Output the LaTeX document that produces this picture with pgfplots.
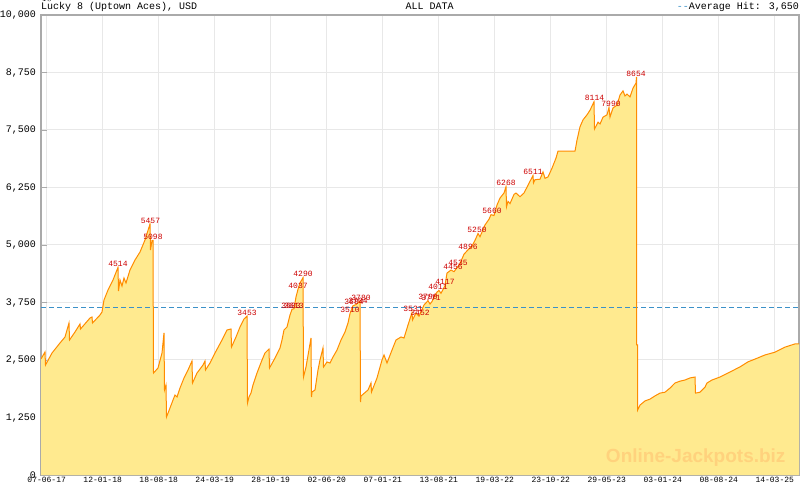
\documentclass[border=0pt]{standalone}
\usepackage{pgfplots}
\pgfplotsset{compat=1.18}
\usepackage{pgfplotstable}
\usepackage{fontspec}
\setmainfont{Liberation Mono}
\newfontfamily\mono{Liberation Mono}
\newfontfamily\wsans{Liberation Sans}
\definecolor{fillc}{RGB}{255,234,143}
\definecolor{linec}{RGB}{255,140,0}
\definecolor{labc}{RGB}{204,0,0}
\definecolor{gridc}{RGB}{232,232,232}
\definecolor{axc}{RGB}{170,170,170}
\definecolor{avgc}{RGB}{60,145,200}
\definecolor{wmc}{RGB}{255,210,125}

\pgfplotstableread{
x y
41 2522
45 2674
45.5 2391
52 2652
60 2870
65 3000
69 3304
69.5 2935
75 3109
80 3283
80.5 3174
90 3413
92 3435
92.5 3304
100 3478
102 3543
104 3804
108 4022
113 4239
118 4514
118.5 4000
120 4239
122 4109
124 4283
126 4174
130 4457
135 4674
140 4848
145 5109
150 5457
150.5 4891
152 5098
153 5098
153.5 2217
158 2326
162 2652
164 3087
164.5 1848
166 1957
166.5 1261
170 1457
173 1630
175 1739
177 1696
180 1891
184 2109
188 2283
192 2478
192.5 2000
197 2217
203 2391
205 2478
205.5 2283
210 2435
215 2652
222 2935
227 3152
231 3174
231.5 2783
236 3000
240 3217
244 3391
247 3453
247.5 1565
249 1696
251 1783
253 1957
257 2217
262 2500
265 2652
269 2739
269.5 2326
275 2543
280 2761
282 2935
284 3152
287 3217
290 3478
292 3603
294 3613
296 3870
298 4037
300 4174
303 4290
303.5 2130
306 2348
311 2978
311.5 1696
312 1804
315 1848
318 2283
320 2500
323 2761
323.5 2348
327 2457
330 2435
333 2565
337 2717
341 2935
345 3109
348 3304
350 3510
353 3680
356 3704
358 3744
360 3780
360.5 1587
361 1717
368 1848
371 2000
371.5 1804
377 2109
382 2500
384 2609
387 2435
392 2717
396 2935
401 3000
404 2978
408 3261
412 3531
412.5 3370
416 3522
419 3452
424 3696
428 3790
430 3717
432 3771
434 3870
437 3978
439 4011
441 3950
445 4117
447 4391
451 4456
454 4420
458 4535
460 4600
464 4800
468 4896
472 4980
475 5100
478 5250
480 5180
485 5435
489 5560
491 5660
494 5640
497 5870
500 6020
504 6130
506 6268
506.5 5830
508 5950
510 5900
514 6100
516 6130
520 6050
524 6130
528 6300
533 6511
533.5 6350
535 6420
540 6430
543 6590
545 6450
548 6480
552 6670
556 6890
558 7040
575 7040
577 7280
580 7570
583 7720
587 7830
590 7930
594 8114
594.5 7520
598 7670
600 7630
603 7780
607 7830
609 7990
610 7780
613 7980
617 8040
620 8260
623 8350
625 8240
627 8280
630 8220
633 8410
636 8520
636.5 8654
636.6 2830
637.5 2830
637.6 1410
640 1520
645 1610
650 1650
655 1720
660 1780
665 1800
670 1890
675 2000
680 2040
685 2065
690 2110
695 2130
695.5 1780
700 1800
705 1910
707 2000
712 2065
720 2130
730 2240
740 2350
748 2460
755 2520
765 2610
775 2670
785 2780
795 2850
799 2850
}\jp

\pgfplotstableread{
x y l
118 4514 4514
150.5 5457 5457
153 5098 5098
247 3453 3453
291 3603 3603
294 3613 3613
298 4037 4037
303 4290 4290
350 3510 3510
354 3684 3684
358 3704 3704
361 3780 3780
413 3531 3531
420 3452 3452
428 3790 3790
431 3771 3771
438 4011 4011
445 4117 4117
453 4456 4456
458 4535 4535
468 4896 4896
477 5250 5250
492 5660 5660
506 6268 6268
533 6511 6511
594.5 8114 8114
611 7990 7990
636 8654 8654
}\labs

\begin{document}
\begin{tikzpicture}
\path[use as bounding box] (0pt,0pt) rectangle (800pt,490pt);
\begin{axis}[
  at={(41pt,15pt)}, anchor=south west,
  width=758pt, height=460pt, scale only axis,
  xmin=41, xmax=799, ymin=0, ymax=10000,
  xtick={46.7,102.7,158.7,214.7,270.7,326.7,382.7,438.7,494.7,550.7,606.7,662.7,718.7,774.7},
  xticklabels={07-06-17,12-01-18,18-08-18,24-03-19,28-10-19,02-06-20,07-01-21,13-08-21,19-03-22,23-10-22,29-05-23,03-01-24,08-08-24,14-03-25},
  minor xtick={46.7,54.7,...,799},
  ytick={0,1250,2500,3750,5000,6250,7500,8750,10000},
  yticklabels={0,{1,250},{2,500},{3,750},{5,000},{6,250},{7,500},{8,750},{10,000}},
  xmajorgrids, ymajorgrids,
  grid style={gridc, line width=1pt},
  axis line style={axc, line width=1.2pt},
  tick style={axc, line width=0.8pt},
  tick align=inside, major tick length=6pt, minor tick length=3.5pt,
  xtick pos=lower, ytick pos=left,
  xticklabel style={font=\mono\fontsize{8}{9}\selectfont, inner sep=0pt, yshift=-2pt},
  yticklabel style={font=\mono\fontsize{10}{12}\selectfont, inner sep=0pt, xshift=-5pt, yshift=-0.5pt},
]
\addplot[fill=fillc, draw=none] table[x=x,y=y] {\jp} \closedcycle;
\addplot[avgc, dash pattern=on 5pt off 3pt, line width=1pt] coordinates {(41,3650) (799,3650)};
\addplot[linec, line width=1pt] table[x=x,y=y] {\jp};
\addplot[draw=none, mark=none, nodes near coords, point meta=explicit symbolic,
  nodes near coords style={anchor=south, inner sep=0.5pt, font=\mono\fontsize{8}{9}\selectfont, text=labc}]
  table[x=x,y=y,meta=l] {\labs};
\node[anchor=base east, font=\wsans\bfseries\fontsize{19}{21}\selectfont, text=wmc] at (axis cs:789,261) {Online-Jackpots.biz};
\end{axis}
\node[anchor=base west, font=\mono\fontsize{10}{12}\selectfont, inner sep=0pt] at (41pt,480.5pt) {Lucky 8 (Uptown Aces), USD};
\node[anchor=base, font=\mono\fontsize{10}{12}\selectfont, inner sep=0pt] at (429.5pt,480.5pt) {ALL DATA};
\node[anchor=base east, font=\mono\fontsize{10}{12}\selectfont, inner sep=0pt] at (799pt,480.5pt) {{\color{avgc}-{}-}Average Hit: 3,650};
\end{tikzpicture}
\end{document}
